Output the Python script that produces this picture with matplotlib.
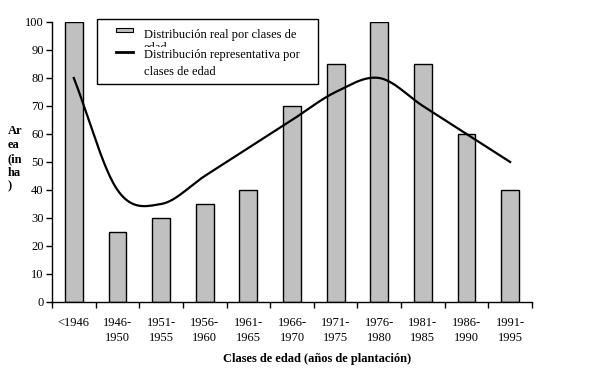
import numpy as np
import matplotlib
matplotlib.use("Agg")
import matplotlib.pyplot as plt
from matplotlib.patches import Rectangle
from matplotlib.lines import Line2D

categories = ["<1946", "1946-\n1950", "1951-\n1955", "1956-\n1960", "1961-\n1965",
              "1966-\n1970", "1971-\n1975", "1976-\n1980", "1981-\n1985",
              "1986-\n1990", "1991-\n1995"]
real_values = [100, 25, 30, 35, 40, 70, 85, 100, 85, 60, 40]
repr_values = [80, 40, 35, 45, 55, 65, 75, 80, 70, 60, 50]
y_ticks = [0, 10, 20, 30, 40, 50, 60, 70, 80, 90, 100]

plt.rcParams['font.family'] = ['Liberation Serif', 'DejaVu Serif']

W, H = 604, 371
fig = plt.figure(figsize=(W/100, H/100), dpi=100)
fig.patch.set_facecolor('white')

def fx(px): return px / W
def fy(py): return 1 - py / H

ax = fig.add_axes([fx(52), fy(302), fx(532) - fx(52), fy(22) - fy(302)])
x = np.arange(len(categories))
ax.bar(x, real_values, width=0.41, color='#C0C0C0', edgecolor='black', linewidth=1, zorder=2)

# Catmull-Rom smoothing of the representative line
def catmull(xs, ys, n=30):
    pts = np.column_stack([xs, ys]).astype(float)
    P = np.vstack([pts[0] - (pts[1] - pts[0]), pts, pts[-1] + (pts[-1] - pts[-2])])
    out = []
    for i in range(1, len(P) - 2):
        p0, p1, p2, p3 = P[i-1], P[i], P[i+1], P[i+2]
        t = np.linspace(0, 1, n, endpoint=False)[:, None]
        seg = 0.5 * ((2*p1) + (-p0 + p2)*t + (2*p0 - 5*p1 + 4*p2 - p3)*t**2 + (-p0 + 3*p1 - 3*p2 + p3)*t**3)
        out.append(seg)
    out.append(pts[-1][None, :])
    out = np.vstack(out)
    return out[:, 0], out[:, 1]

sx, sy = catmull(x, repr_values)
ax.plot(sx, sy, color='black', linewidth=1.6, zorder=3)

ax.set_xlim(-0.5, len(categories) - 0.5)
ax.set_ylim(0, 100)
ax.set_yticks(y_ticks)
ax.set_yticklabels([str(v) for v in y_ticks], fontsize=9)
ax.set_xticks(x)
ax.set_xticklabels(categories, fontsize=9, linespacing=1.35)
ax.set_xticks(np.arange(len(categories) + 1) - 0.5, minor=True)
ax.tick_params(axis='x', which='major', length=0, pad=11)
ax.tick_params(axis='x', which='minor', length=4, direction='out', width=1)
ax.tick_params(axis='y', length=4, direction='out', width=1, pad=2)
for s in ['top', 'right']:
    ax.spines[s].set_visible(False)
for s in ['left', 'bottom']:
    ax.spines[s].set_linewidth(1)
ax.set_facecolor('white')

# Y label
fig.text(fx(8), fy(159), "Ar\nea\n(in\nha\n)", fontsize=9, fontweight='bold',
         ha='left', va='center', linespacing=1.2)
# X label
fig.text(fx(317), fy(359), "Clases de edad (años de plantación)", fontsize=9,
         fontweight='bold', ha='center', va='center')

# Legend (manual)
fig.patches.append(Rectangle((fx(97), fy(84)), fx(318) - fx(97), fy(19) - fy(84),
                             transform=fig.transFigure, facecolor='white',
                             edgecolor='black', linewidth=1, zorder=5))
fig.patches.append(Rectangle((fx(116), fy(32)), fx(133) - fx(116), fy(28) - fy(32),
                             transform=fig.transFigure, facecolor='#C0C0C0',
                             edgecolor='black', linewidth=0.8, zorder=6))
fig.lines.append(Line2D([fx(116), fx(133)], [fy(52), fy(52)], transform=fig.transFigure,
                        color='black', linewidth=2, zorder=6))
fig.text(fx(144), fy(35), "Distribución real por clases de", fontsize=9,
         ha='left', va='center', zorder=7)
fig.text(fx(144), fy(48), "edad", fontsize=9, ha='left', va='center', zorder=7)
fig.patches.append(Rectangle((fx(140), fy(60)), fx(60) - fx(0), fy(47) - fy(60),
                             transform=fig.transFigure, facecolor='white',
                             edgecolor='none', zorder=8))
fig.text(fx(144), fy(55), "Distribución representativa por", fontsize=9,
         ha='left', va='center', zorder=9)
fig.text(fx(144), fy(72), "clases de edad", fontsize=9, ha='left', va='center', zorder=9)

fig.savefig("out.png", dpi=100, facecolor='white')
